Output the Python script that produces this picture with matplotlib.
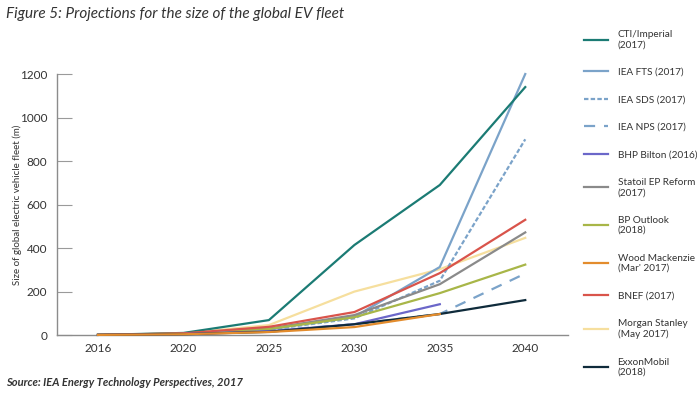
import matplotlib
matplotlib.use("Agg")
import matplotlib.pyplot as plt
from matplotlib.lines import Line2D

plt.rcParams['font.family'] = ['Lato', 'DejaVu Sans']

years = ['2016', '2020', '2025', '2030', '2035', '2040']

# projections (millions of EVs)
cti = [1, 10, 69, 414, 690, 1140]
iea_fts = [1, 6, 28, 84, 313, 1200]
iea_sds = [1, 6, 25, 77, 250, 900]
iea_nps = [1, 5, 20, 50, 97, 283]
bhp = [1, 5, 18, 50, 142]
statoil = [1, 7, 30, 92, 234, 472]
bp = [1, 7, 28, 82, 193, 324]
woodmac = [1, 4, 14, 37, 97]
bnef = [1, 8, 38, 106, 285, 530]
morgan = [1, 8, 46, 200, 303, 447]
exxon = [1, 4, 15, 50, 97, 161]

series = [
    ('CTI/Imperial\n(2017)', cti, '#1b7b74', '-'),
    ('IEA FTS (2017)', iea_fts, '#7ba3c9', '-'),
    ('IEA SDS (2017)', iea_sds, '#7ba3c9', (0, (2, 1))),
    ('IEA NPS (2017)', iea_nps, '#7ba3c9', (0, (5, 4))),
    ('BHP Bilton (2016)', bhp, '#6b67c9', '-'),
    ('Statoil EP Reform\n(2017)', statoil, '#8a8a8a', '-'),
    ('BP Outlook\n(2018)', bp, '#a8b648', '-'),
    ("Wood Mackenzie\n(Mar' 2017)", woodmac, '#e38c2d', '-'),
    ('BNEF (2017)', bnef, '#d9544b', '-'),
    ('Morgan Stanley\n(May 2017)', morgan, '#f6df9e', '-'),
    ('ExxonMobil\n(2018)', exxon, '#0f2b3b', '-'),
]

fig = plt.figure(figsize=(7, 3.98), dpi=100)
ax = fig.add_axes([0.0814, 0.158, 0.73, 0.656])

# draw so that the darker lines sit on top like the original
order = [9, 1, 2, 3, 0, 5, 6, 8, 4, 10, 7]
for i in order:
    name, vals, col, ls = series[i]
    ax.plot(range(len(vals)), vals, color=col, ls=ls, lw=1.6, clip_on=False,
            zorder=3 if i != 9 else 2)

ax.set_xlim(-0.48, 5.5)
ax.set_ylim(0, 1200)
ax.set_xticks(range(len(years)))
ax.set_xticklabels(years)
ax.set_yticks(range(0, 1201, 200))
ax.spines['top'].set_visible(False)
ax.spines['right'].set_visible(False)
for s in ['left', 'bottom']:
    ax.spines[s].set_color('#8c8c8c')
    ax.spines[s].set_linewidth(1.0)
ax.tick_params(axis='y', direction='in', length=11, color='#9a9a9a',
               labelsize=8.5, labelcolor='#333333', pad=7)
ax.tick_params(axis='x', length=0, labelsize=8.5, labelcolor='#333333', pad=6)
fig.text(0.024, 0.485, 'Size of global electric vehicle fleet (m)', fontsize=7,
         color='#333333', rotation=90, ha='center', va='center')

handles = [Line2D([], [], color=c, ls=ls, lw=1.6) for _, _, c, ls in series]
labels = [n for n, _, _, _ in series]
fig.legend(handles, labels, loc='upper left', bbox_to_anchor=(0.828, 0.935),
           frameon=False, fontsize=7.2, labelcolor='#333333',
           handlelength=2.4, handletextpad=1.0, labelspacing=1.85,
           borderaxespad=0)

fig.text(0.008, 0.965, 'Figure 5: Projections for the size of the global EV fleet',
         fontsize=11, style='italic', color='#333333', va='center')
fig.text(0.008, 0.038, 'Source: IEA Energy Technology Perspectives, 2017',
         fontsize=8, style='italic', weight='bold', color='#333333', va='center')

fig.savefig('out.png', dpi=100)
